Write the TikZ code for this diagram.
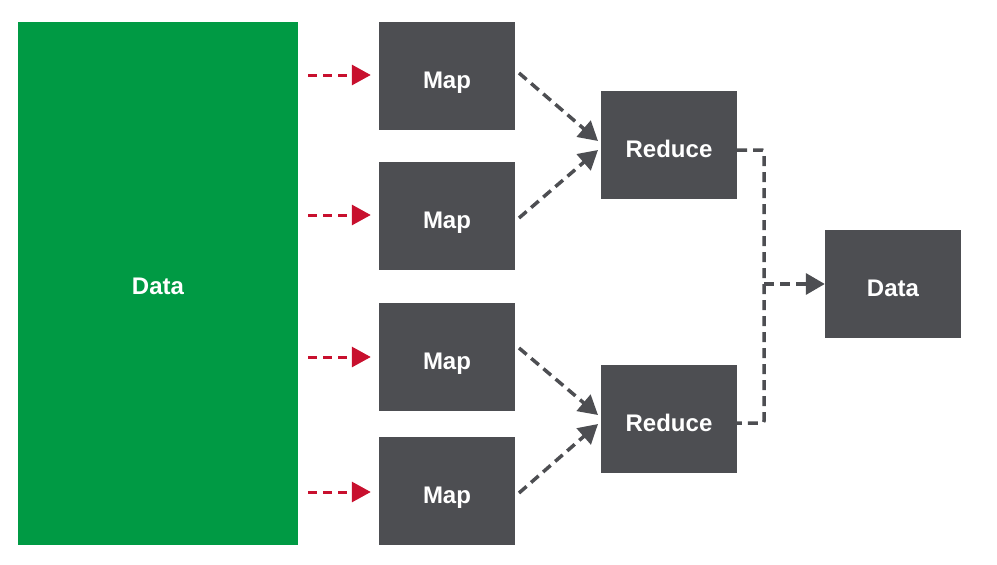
\documentclass[tikz,border=0pt]{standalone}
\usepackage{fontspec}
\setmainfont{Liberation Sans}
\usetikzlibrary{arrows.meta}
\definecolor{dgreen}{HTML}{009A44}
\definecolor{boxgray}{HTML}{4D4E52}
\definecolor{dred}{HTML}{C8102E}
\tikzset{
  lbl/.style={text=white, font=\fontsize{24}{28}\selectfont\bfseries, text height=24pt, text depth=0pt},
  box/.style={fill=boxgray, draw=none, minimum width=136pt, minimum height=108pt, inner sep=0pt, lbl},
  redarr/.style={draw=dred, line width=3pt, dash pattern=on 9pt off 6pt, -{Triangle[length=19pt,width=20pt]}},
  grayarr/.style={draw=boxgray, line width=3.5pt, dash pattern=on 10pt off 6pt, -{Triangle[length=19pt,width=21pt]}},
  grayline/.style={draw=boxgray, line width=3.5pt, dash pattern=on 10pt off 6pt, rounded corners=2pt},
}
\begin{document}
\begin{tikzpicture}[x=1pt,y=-1pt]
\useasboundingbox (0,0) rectangle (997,565);
\node[fill=dgreen, minimum width=280pt, minimum height=523pt, inner sep=0pt, lbl, text height=22pt] (data) at (158,283.5) {Data};
\node[box] (m1) at (447,76) {Map};
\node[box] (m2) at (447,216) {Map};
\node[box] (m3) at (447,357) {Map};
\node[box] (m4) at (447,491) {Map};
\node[box] (r1) at (669,145) {Reduce};
\node[box] (r2) at (669,419) {Reduce};
\node[box] (out) at (893,284) {Data};
\coordinate (s1) at (308,75);
\coordinate (s2) at (308,215);
\coordinate (s3) at (308,357);
\coordinate (s4) at (308,492);
\draw[redarr] (s1) -- ([xshift=-8pt]m1.west |- s1);
\draw[redarr] (s2) -- ([xshift=-8pt]m2.west |- s2);
\draw[redarr] (s3) -- ([xshift=-8pt]m3.west |- s3);
\draw[redarr] (s4) -- ([xshift=-8pt]m4.west |- s4);
\draw[grayarr] (519,73) -- (598,141);
\draw[grayarr] (519,218) -- (598,150);
\draw[grayarr] (519,348) -- (598,415);
\draw[grayarr] (519,493) -- (598,424);
\coordinate (j) at (764,284);
\draw[grayline] (r1.east |- 0,150) -- (764,150) -- (764,423) -- (r2.east |- 0,423);
\draw[grayarr] (j) -- (out.west);
\end{tikzpicture}
\end{document}
